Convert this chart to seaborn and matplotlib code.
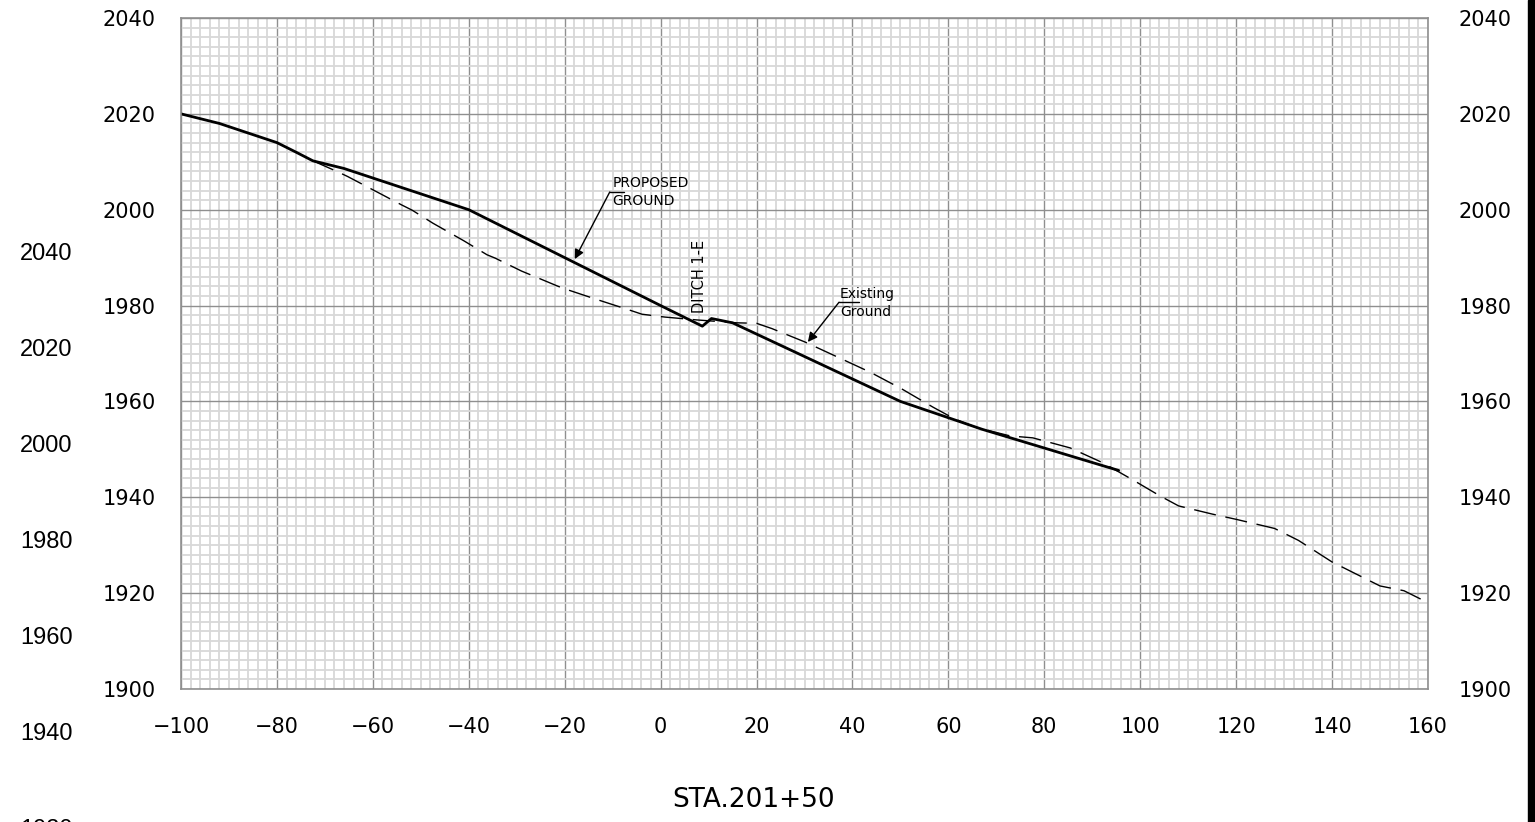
#Profile Section STA.201+50 - Proposed vs Existing Ground

#Import Necessary Libraries
import pandas as pd
import seaborn as sns
from matplotlib import pyplot as plt
from matplotlib.ticker import MultipleLocator
from matplotlib.patches import Rectangle

#Data Creation
prop_station = [-100, -92, -86, -80, -76, -72.5, -66, -40, 0, 8.7, 10.6, 15, 50, 60, 67, 95.5]
prop_elev = [2020, 2018, 2016, 2014, 2012, 2010.2, 2008.6, 2000, 1980, 1975.7, 1977.3, 1976.4,
             1960, 1956.6, 1954.2, 1945.6]

exist_station = [-72.5, -67.3, -65.2, -54, -51.8, -47.5, -41, -36.2, -34.5, -29, -20.6, -13.7,
                 -6.6, -3.9, 0.9, 7.6, 15.9, 20, 23.2, 30.1, 36.8, 43.7, 50.3, 56.8, 61.4, 66,
                 72.9, 77.6, 85.4, 92.2, 98.5, 104.1, 108, 115, 120, 128, 133, 140, 145, 150,
                 155, 160]
exist_elev = [2010.2, 2007.9, 2006.9, 2001.0, 1999.9, 1997.2, 1993.5, 1990.6, 1989.9, 1987.2,
              1983.7, 1981.4, 1979.1, 1978.2, 1977.6, 1977.0, 1976.4, 1976.3, 1975.2, 1972.4,
              1969.3, 1966.1, 1962.6, 1958.8, 1956.3, 1954.5, 1952.8, 1952.4, 1950.3, 1947.2,
              1943.6, 1940.3, 1938.2, 1936.5, 1935.4, 1933.5, 1931.0, 1926.5, 1924.0, 1921.5,
              1920.5, 1918.0]

x_ticks = list(range(-100, 161, 20))
y_ticks = list(range(1900, 2041, 20))
stray_labels = [2040, 2020, 2000, 1980, 1960, 1940, 1920]

#Creating DataFrames
proposed = pd.DataFrame({'Station': prop_station, 'Elevation': prop_elev})
existing = pd.DataFrame({'Station': exist_station, 'Elevation': exist_elev})

#Visualization
sns.set_style('white')
plt.rcParams['font.family'] = ['DejaVu Sans']
plt.rcParams['text.color'] = 'black'
plt.rcParams['xtick.color'] = 'black'
plt.rcParams['ytick.color'] = 'black'
fig = plt.figure(figsize=(15.35, 8.22), dpi=100)
ax = fig.add_axes([181/1535, 1 - 689/822, 1247/1535, 671/822])

ax.set_xlim(-100, 160)
ax.set_ylim(1900, 2040)
ax.set_xticks(x_ticks)
ax.set_yticks(y_ticks)
ax.xaxis.set_minor_locator(MultipleLocator(2))
ax.yaxis.set_minor_locator(MultipleLocator(2))
ax.grid(which='minor', color='#d8d8d8', lw=1.3, zorder=0)
ax.grid(which='major', color='#8f8f8f', lw=1.0, zorder=0)
ax.set_axisbelow(True)
for s in ax.spines.values():
    s.set_color('#8f8f8f')
    s.set_linewidth(1.2)

ax.tick_params(axis='both', which='both', length=0, labelsize=15)
ax.tick_params(axis='y', pad=18)
ax.tick_params(axis='x', pad=20)

#Right side elevation labels
ax_r = ax.twinx()
ax_r.set_ylim(1900, 2040)
ax_r.set_yticks(y_ticks)
ax_r.tick_params(axis='y', length=0, labelsize=15, pad=22)
for s in ax_r.spines.values():
    s.set_visible(False)

#Lines
sns.lineplot(data=existing, x='Station', y='Elevation', ax=ax, color='black', lw=1.0,
             sort=False, estimator=None, linestyle=(0, (16, 7)))
sns.lineplot(data=proposed, x='Station', y='Elevation', ax=ax, color='black', lw=2.0,
             sort=False, estimator=None)
ax.set_xlabel('')
ax.set_ylabel('')

#Labels with leaders
arrow = dict(arrowstyle='-|>', lw=1.0, color='black', mutation_scale=14, shrinkA=0, shrinkB=0)
ax.plot([-10.6, -7.6], [2003.7, 2003.7], color='black', lw=1.0)
ax.annotate('', xy=(-17.9, 1989.7), xytext=(-10.6, 2003.7), arrowprops=arrow)
ax.text(-10.0, 2004.1, 'PROPOSED', fontsize=10, ha='left', va='bottom')
ax.text(-10.0, 2003.2, 'GROUND', fontsize=10, ha='left', va='top')

ax.plot([37.2, 41.3], [1980.7, 1980.7], color='black', lw=1.0)
ax.annotate('', xy=(30.7, 1972.4), xytext=(37.2, 1980.7), arrowprops=arrow)
ax.text(37.4, 1980.9, 'Existing', fontsize=10, ha='left', va='bottom')
ax.text(37.4, 1980.2, 'Ground', fontsize=10, ha='left', va='top')

ax.text(8.2, 1978.4, 'DITCH 1-E', fontsize=10.5, rotation=90, ha='center', va='bottom')

#Station title
fig.text(754/1535, 1 - 800/822, 'STA.201+50', fontsize=19, ha='center', va='center')

#Leftover axis labels on the left edge
for i, lab in enumerate(stray_labels):
    fig.text(20/1535, 1 - (254 + 96*i)/822, str(lab), fontsize=17, ha='left', va='center',
             family=['Liberation Sans', 'DejaVu Sans'])

#Right border bar
fig.patches.append(Rectangle((1528/1535, 0), 7/1535, 1, transform=fig.transFigure,
                             color='black', zorder=10))

#Save Plot
fig.savefig('out.png', dpi=100)
